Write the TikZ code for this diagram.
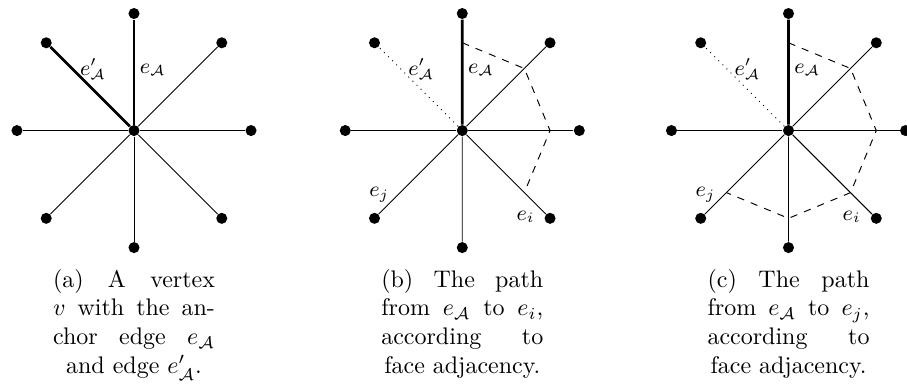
\documentclass[tikz,border=0pt]{standalone}
\usepackage{amsmath}
\usepackage{amssymb}
\newcommand{\capline}[1]{\noindent\hbox to 67.5pt{\spaceskip=0pt\xspaceskip=0pt #1}\par}
\newcommand{\caplast}[1]{\noindent\hbox to 67.5pt{\spaceskip=0pt\xspaceskip=0pt\hfil#1\hfil}\par}
\tikzset{
  dot/.style={circle, fill=black, inner sep=0pt, minimum size=4.6pt},
  anchoredge/.style={line width=1.1pt},
  edgelabel/.style={font=\small, inner sep=1pt},
  subcap/.style={text width=67.5pt, inner sep=0pt, anchor=base}
}

\begin{document}
\begin{tikzpicture}[scale=0.857]
    \useasboundingbox (-2.29, -4.333) rectangle (13.21, 2.231);

    % the three stars
    \foreach \p/\dx in {a/0, b/5.61, c/11.185} {
      \node[dot] (\p-v) at (\dx, 0) {};
      \foreach \a/\r in {0/2, 45/2.1213, 90/2, 135/2.1213,
                         180/2, 225/2.1213, 270/2, 315/2.1213} {
        \node[dot] (\p-\a) at ([shift={(\dx,0)}]\a:\r) {};
      }
      \foreach \a in {0, 45, 180, 225, 270, 315} {
        \draw (\p-v) -- (\p-\a);
      }
      \draw[anchoredge] (\p-v) -- (\p-90);
    }

    % (a) anchor edge and e'
    \draw[anchoredge] (a-v) -- (a-135);
    \node[edgelabel] (a-eap) at (-0.7, 1.05) {$e'_{\mathcal{A}}$};
    \node[edgelabel] (a-ea) at (0.32, 1.04) {$e_{\mathcal{A}}$};
    \node[subcap] (a-cap) at (0, -2.675) {%
      \capline{(a) A vertex}%
      \capline{$v$ with the an-}%
      \capline{chor edge $e_{\mathcal{A}}$}%
      \caplast{and edge $e'_{\mathcal{A}}$.}};

    % (b) path to e_i
    \begin{scope}[shift={(5.61,0)}]
      \draw[dotted] (b-v) -- (b-135);
      \node[edgelabel] (b-eap) at (-0.7, 1.05) {$e'_{\mathcal{A}}$};
      \node[edgelabel] (b-ea) at (0.32, 1.04) {$e_{\mathcal{A}}$};
      \node[edgelabel] (b-ej) at (-1.42, -1.1) {$e_j$};
      \node[edgelabel] (b-ei) at (1.08, -1.47) {$e_i$};
      \foreach \a in {90, 45, 0, -45} {
        \coordinate (b-f\a) at (\a:1.5);
      }
      \draw[dashed] (b-f90) -- (b-f45) -- (b-f0) -- (b-f-45);
      \node[subcap] (b-cap) at (0, -2.675) {%
        \capline{(b) The path}%
        \capline{from $e_{\mathcal{A}}$ to $e_i$,}%
        \capline{according to}%
        \caplast{face adjacency.}};
    \end{scope}

    % (c) path to e_j
    \begin{scope}[shift={(11.185,0)}]
      \draw[dotted] (c-v) -- (c-135);
      \node[edgelabel] (c-eap) at (-0.7, 1.05) {$e'_{\mathcal{A}}$};
      \node[edgelabel] (c-ea) at (0.32, 1.04) {$e_{\mathcal{A}}$};
      \node[edgelabel] (c-ej) at (-1.42, -1.1) {$e_j$};
      \node[edgelabel] (c-ei) at (1.08, -1.47) {$e_i$};
      \foreach \a in {90, 45, 0, -45, -90, -135} {
        \coordinate (c-f\a) at (\a:1.5);
      }
      \draw[dashed] (c-f90) -- (c-f45) -- (c-f0) -- (c-f-45) -- (c-f-90) -- (c-f-135);
      \node[subcap] (c-cap) at (0, -2.675) {%
        \capline{(c) The path}%
        \capline{from $e_{\mathcal{A}}$ to $e_j$,}%
        \capline{according to}%
        \caplast{face adjacency.}};
    \end{scope}
  \end{tikzpicture}
\end{document}
